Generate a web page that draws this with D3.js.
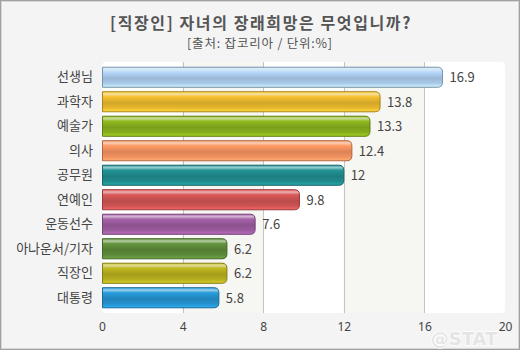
<!DOCTYPE html>
<html>
<head>
<meta charset="utf-8">
<script src="https://cdn.jsdelivr.net/npm/d3@7"></script>
<style>
  html, body { margin: 0; padding: 0; background: #fff; }
  svg { display: block; }
  text { font-family: "Noto Sans CJK KR", "Noto Sans", sans-serif; }
</style>
</head>
<body>
<div id="chart"></div>
<script>
// Survey: what office workers hope their children become (%)
const categories = ["선생님", "과학자", "예술가", "의사", "공무원", "연예인", "운동선수", "아나운서/기자", "직장인", "대통령"];
const values = [16.9, 13.8, 13.3, 12.4, 12, 9.8, 7.6, 6.2, 6.2, 5.8];
const barColors = ["#a9c9ea", "#e6b52c", "#86ad1c", "#f0905e", "#1f8a8c", "#cc5252", "#9a5a9c", "#5b8a38", "#b4ac1e", "#2591cc"];
const xTicks = [0, 4, 8, 12, 16, 20];
const title = "[직장인] 자녀의 장래희망은 무엇입니까?";
const subtitle = "[출처: 잡코리아 / 단위:%]";

const W = 520, H = 350;
const plot = { left: 102, right: 505, top: 62, bottom: 313 };

const svg = d3.select("#chart").append("svg")
  .attr("width", W).attr("height", H);

// outer frame
svg.append("rect").attr("x", 0.5).attr("y", 0.5).attr("width", W - 1).attr("height", H - 1)
  .attr("fill", "#f4f4f4").attr("stroke", "#a0a0a0").attr("stroke-width", 1);
svg.append("rect").attr("x", 1.5).attr("y", 1.5).attr("width", W - 3).attr("height", H - 3)
  .attr("fill", "none").attr("stroke", "#d8d8d8").attr("stroke-width", 1);

// watermark, sits underneath the axis labels
svg.append("text").attr("x", 464).attr("y", 345).attr("text-anchor", "middle")
  .attr("font-size", 18).attr("font-weight", "bold")
  .attr("fill", "#e4e4e4").attr("stroke", "#ffffff").attr("stroke-width", 1.5)
  .attr("paint-order", "stroke")
  .style("font-family", "'DejaVu Sans', sans-serif")
  .text("@STAT");

svg.append("text").attr("x", 261).attr("y", 29).attr("text-anchor", "middle")
  .attr("font-size", 16).attr("font-weight", "bold").attr("letter-spacing", 1.6)
  .attr("fill", "#555").text(title);
svg.append("text").attr("x", 260).attr("y", 48).attr("text-anchor", "middle")
  .attr("font-size", 12.5).attr("letter-spacing", 0.8).attr("fill", "#555").text(subtitle);

const x = d3.scaleLinear().domain([0, 20]).range([plot.left, plot.right]);
const y = d3.scaleBand().domain(categories).range([65, 310]).paddingInner(0.14).paddingOuter(0.07);

// plot background with alternating bands
const defs = svg.append("defs");
defs.append("clipPath").attr("id", "plotClip").append("rect")
  .attr("x", plot.left).attr("y", plot.top)
  .attr("width", plot.right - plot.left).attr("height", plot.bottom - plot.top)
  .attr("rx", 4);

const bg = svg.append("g").attr("clip-path", "url(#plotClip)");
bg.selectAll("rect.band").data(d3.pairs(xTicks)).join("rect")
  .attr("class", "band")
  .attr("x", d => x(d[0])).attr("y", plot.top)
  .attr("width", d => x(d[1]) - x(d[0])).attr("height", plot.bottom - plot.top)
  .attr("fill", (d, i) => i % 2 ? "#f6f6f2" : "#ffffff");

// vertical grid lines
svg.append("g").selectAll("line").data(xTicks.slice(1, -1)).join("line")
  .attr("x1", d => Math.round(x(d)) + 0.5).attr("x2", d => Math.round(x(d)) + 0.5)
  .attr("y1", plot.top).attr("y2", plot.bottom)
  .attr("stroke", "#c4c4c4").attr("stroke-width", 1);

// glossy gradients per bar
barColors.forEach((c, i) => {
  const base = d3.color(c);
  const g = defs.append("linearGradient").attr("id", "grad" + i)
    .attr("x1", 0).attr("y1", 0).attr("x2", 0).attr("y2", 1);
  const stops = [
    [0, base.brighter(0.5)],
    [0.12, d3.interpolateRgb(c, "#ffffff")(0.55)],
    [0.25, base.brighter(0.2)],
    [0.55, base.darker(0.25)],
    [0.8, base],
    [1, base.brighter(0.55)]
  ];
  stops.forEach(([o, col]) => g.append("stop").attr("offset", o).attr("stop-color", col));
});

// bars: square left edge, rounded right end
const r = 5;
function barPath(d, i) {
  const x0 = x(0) + 0.5, x1 = x(values[i]), y0 = y(d) + 0.5, h = y.bandwidth() - 1;
  return `M${x0},${y0} H${x1 - r} Q${x1},${y0} ${x1},${y0 + r} V${y0 + h - r} Q${x1},${y0 + h} ${x1 - r},${y0 + h} H${x0} Z`;
}
svg.append("g").selectAll("path").data(categories).join("path")
  .attr("d", barPath)
  .attr("fill", (d, i) => `url(#grad${i})`)
  .attr("stroke", (d, i) => d3.color(barColors[i]).darker(0.9))
  .attr("stroke-width", 1);

// value labels
svg.append("g").selectAll("text").data(categories).join("text")
  .attr("x", (d, i) => x(values[i]) + 7)
  .attr("y", d => y(d) + y.bandwidth() / 2 + 5)
  .attr("font-size", 13).attr("fill", "#444")
  .text((d, i) => values[i]);

// category axis
const yAxis = svg.append("g").attr("transform", `translate(${plot.left},0)`)
  .call(d3.axisLeft(y).tickSize(0).tickPadding(9));
yAxis.select(".domain").remove();
yAxis.selectAll("text").attr("font-size", 13).attr("fill", "#444")
  .style("font-family", "'Noto Sans CJK KR', sans-serif");

// value axis
const xAxis = svg.append("g").attr("transform", `translate(0,${plot.bottom})`)
  .call(d3.axisBottom(x).tickValues(xTicks).tickSize(0).tickPadding(9));
xAxis.select(".domain").remove();
xAxis.selectAll("text").attr("font-size", 12).attr("fill", "#444")
  .style("font-family", "'Noto Sans', sans-serif");
</script>
</body>
</html>
